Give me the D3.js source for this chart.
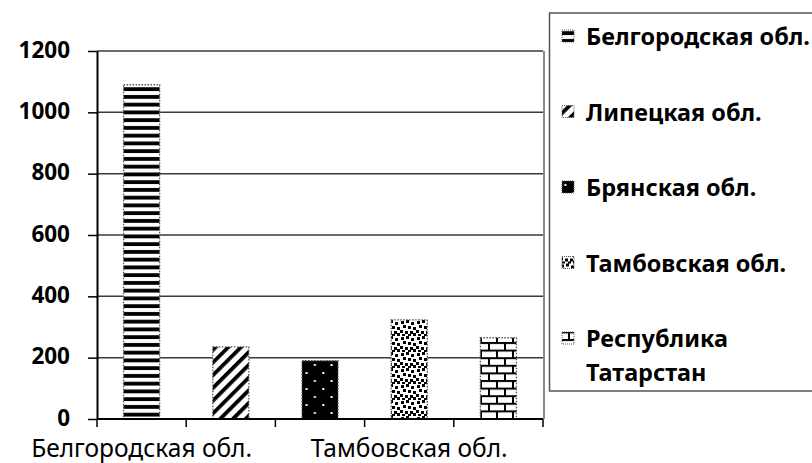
<!DOCTYPE html>
<html>
<head>
<meta charset="utf-8">
<script src="https://cdn.jsdelivr.net/npm/d3@7"></script>
<style>
  body { margin: 0; background: #fff; }
  svg { display: block; font-family: "Noto Sans", "DejaVu Sans", sans-serif; }
</style>
</head>
<body>
<div id="chart"></div>
<script>
// data
var categories = ["Белгородская обл.", "Липецкая обл.", "Брянская обл.", "Тамбовская обл.", "Республика Татарстан"];
var values = [1090, 235, 190, 323, 265];
var yTicks = [0, 200, 400, 600, 800, 1000, 1200];
var xLabels = ["Белгородская обл.", "", "", "Тамбовская обл.", ""]; // excel skipped some
var legendLines = [["Белгородская обл."], ["Липецкая обл."], ["Брянская обл."], ["Тамбовская обл."], ["Республика", "Татарстан"]];
var patternIds = ["hstripe", "diag", "blackdots", "confetti", "brick"];

var W = 812, H = 463;
var svg = d3.select("#chart").append("svg")
    .attr("width", W)
    .attr("height", H);

var x = d3.scaleBand()
    .domain(categories)
    .range([97, 543])
    .paddingInner(0.596)
    .paddingOuter(0.298);

var y = d3.scaleLinear()
    .domain([0, 1200])
    .range([419, 51]);

//patterns
var defs = svg.append("defs");

var p1 = defs.append("pattern").attr("id", "hstripe")
    .attr("patternUnits", "userSpaceOnUse").attr("width", 8).attr("height", 7.75);
p1.append("rect").attr("width", 8).attr("height", 7.75).attr("fill", "#fff");
p1.append("rect").attr("y", 2).attr("width", 8).attr("height", 3.8).attr("fill", "#000");

var p2 = defs.append("pattern").attr("id", "diag")
    .attr("patternUnits", "userSpaceOnUse").attr("width", 9).attr("height", 9)
    .attr("patternTransform", "rotate(45)");
p2.append("rect").attr("width", 9).attr("height", 9).attr("fill", "#fff");
p2.append("rect").attr("width", 3.8).attr("height", 9).attr("fill", "#000");

var p3 = defs.append("pattern").attr("id", "blackdots")
    .attr("patternUnits", "userSpaceOnUse").attr("width", 16.7).attr("height", 16)
    .attr("x", 3).attr("y", 2);
p3.append("rect").attr("width", 16.7).attr("height", 16).attr("fill", "#000");
p3.append("rect").attr("x", 2).attr("y", 2).attr("width", 2).attr("height", 2).attr("fill", "#fff");
p3.append("rect").attr("x", 10.3).attr("y", 10).attr("width", 2).attr("height", 2).attr("fill", "#fff");

var p4 = defs.append("pattern").attr("id", "confetti")
    .attr("patternUnits", "userSpaceOnUse").attr("width", 16).attr("height", 16);
p4.append("rect").attr("width", 16).attr("height", 16).attr("fill", "#fff");
[[1, 1], [6, 0], [11, 2], [3, 5], [8, 6], [13, 7], [0, 10], [5, 11], [10, 11], [13, 13], [2, 14], [8, 14]].forEach(function(d){
  p4.append("rect").attr("x", d[0]).attr("y", d[1]).attr("width", 3).attr("height", 3).attr("fill", "#000");
});

var p5 = defs.append("pattern").attr("id", "brick")
    .attr("patternUnits", "userSpaceOnUse").attr("width", 16).attr("height", 15.2);
p5.append("rect").attr("width", 16).attr("height", 15.2).attr("fill", "#fff");
p5.append("rect").attr("y", 0).attr("width", 16).attr("height", 2).attr("fill", "#000");
p5.append("rect").attr("y", 7.6).attr("width", 16).attr("height", 2).attr("fill", "#000");
p5.append("rect").attr("x", 0).attr("y", 0).attr("width", 2).attr("height", 7.6).attr("fill", "#000");
p5.append("rect").attr("x", 8).attr("y", 7.6).attr("width", 2).attr("height", 7.6).attr("fill", "#000");

//gridlines
svg.append("g")
    .selectAll("line")
    .data(yTicks.slice(1))
    .enter().append("line")
    .attr("x1", 97).attr("x2", 543)
    .attr("y1", function(d){ return y(d); })
    .attr("y2", function(d){ return y(d); })
    .attr("stroke", "#3a3a3a")
    .attr("stroke-width", 1.5);

// right border of plot area
svg.append("line")
    .attr("x1", 544).attr("x2", 544)
    .attr("y1", y(1200)).attr("y2", y(0))
    .attr("stroke", "#8a8a8a").attr("stroke-width", 2);

//bars
svg.append("g")
    .selectAll("rect")
    .data(values)
    .enter().append("rect")
    .attr("x", function(d, i){ return x(categories[i]); })
    .attr("y", function(d){ return y(d); })
    .attr("width", x.bandwidth())
    .attr("height", function(d){ return y(0) - y(d); })
    .attr("fill", function(d, i){ return "url(#" + patternIds[i] + ")"; })
    .attr("stroke", "#555")
    .attr("stroke-width", 1.3)
    .attr("stroke-dasharray", "1.5,1.5");

//y axis
var yAxis = svg.append("g")
    .attr("transform", "translate(97,0)")
    .call(d3.axisLeft(y).tickValues(yTicks).tickFormat(d3.format("d"))
      .tickSize(9).tickPadding(18).tickSizeOuter(0));
yAxis.select(".domain").attr("stroke", "#000").attr("stroke-width", 2);
yAxis.selectAll(".tick line").attr("stroke", "#000").attr("stroke-width", 1.5);
yAxis.selectAll(".tick text")
    .attr("font-family", "Noto Sans")
    .attr("font-weight", "bold")
    .attr("font-size", 22.5)
    .attr("dy", "0.28em")
    .attr("fill", "#000");

//x axis: ticks sit on category boundaries
var step = x.step();
var bounds = d3.range(categories.length + 1).map(function(i){ return 97 + i * step; });
var xAxis = svg.append("g");
xAxis.append("line")
    .attr("x1", 97).attr("x2", 543)
    .attr("y1", y(0)).attr("y2", y(0))
    .attr("stroke", "#000").attr("stroke-width", 2);
xAxis.selectAll(".xt")
    .data(bounds)
    .enter().append("line")
    .attr("class", "xt")
    .attr("x1", function(d){ return d; }).attr("x2", function(d){ return d; })
    .attr("y1", y(0)).attr("y2", y(0) + 8)
    .attr("stroke", "#000").attr("stroke-width", 1.5);
var xl = xAxis.selectAll(".xl")
    .data(xLabels)
    .enter().append("text")
    .attr("class", "xl")
    .attr("x", function(d, i){ return x(categories[i]) + x.bandwidth() / 2; })
    .attr("y", 456.5)
    .attr("text-anchor", "middle")
    .attr("font-size", 20)
    .attr("fill", "#000")
    .text(function(d){ return d; });

// fit font size so the first label has the width seen in the picture
function fit(sel, node, target) {
  var w = node.getComputedTextLength();
  var fs = parseFloat(d3.select(node).attr("font-size"));
  sel.attr("font-size", (fs * target / w).toFixed(2));
}
fit(xl, xl.nodes()[0], 221);

//legend
var legend = svg.append("g");
legend.append("rect")
    .attr("x", 549.5).attr("y", 13)
    .attr("width", 320).attr("height", 378)
    .attr("fill", "#fff")
    .attr("stroke", "#555").attr("stroke-width", 1.5);

var rowY = d3.scaleLinear().domain([0, 4]).range([37, 339]);

var items = legend.selectAll(".item")
    .data(legendLines)
    .enter().append("g")
    .attr("class", "item")
    .attr("transform", function(d, i){ return "translate(0," + rowY(i) + ")"; });

items.append("rect")
    .attr("x", 562).attr("y", -7)
    .attr("width", 12).attr("height", 12)
    .attr("fill", function(d, i){ return "url(#" + patternIds[i] + ")"; })
    .attr("stroke", "#555")
    .attr("stroke-width", 1)
    .attr("stroke-dasharray", "1,1");

var ltext = items.append("text")
    .attr("x", 586)
    .attr("font-weight", "bold")
    .attr("font-size", 20)
    .attr("fill", "#000");
ltext.selectAll("tspan")
    .data(function(d){ return d; })
    .enter().append("tspan")
    .attr("x", 586)
    .attr("y", function(d, j){ return j * 34; })
    .attr("dy", "0.35em")
    .text(function(d){ return d; });

fit(ltext, ltext.nodes()[0], 224);
</script>
</body>
</html>
